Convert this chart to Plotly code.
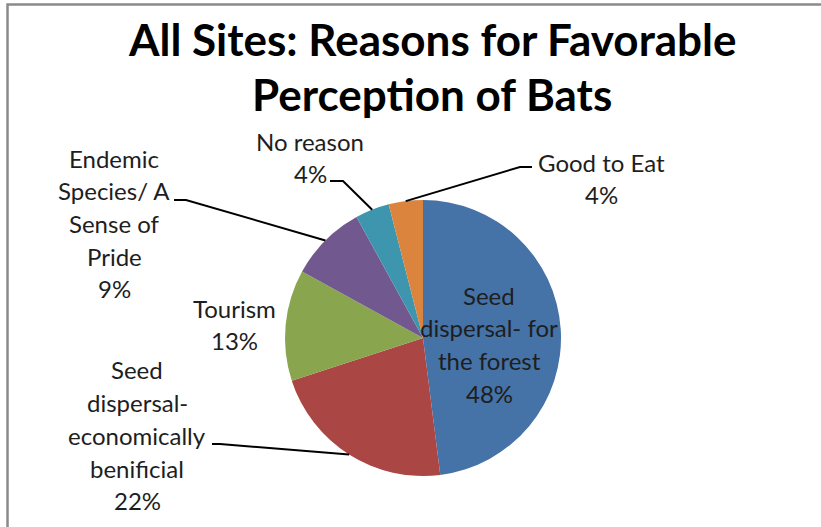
import math
import plotly.graph_objects as go

# Survey answers: why respondents view bats favourably (all sites)
categories = [
    "Seed dispersal- for the forest",
    "Seed dispersal-economically benificial",
    "Tourism",
    "Endemic Species/ A Sense of Pride",
    "No reason",
    "Good to Eat",
]
shares = [48, 22, 13, 9, 4, 4]
label_lines = [
    ["Seed", "dispersal- for", "the forest"],
    ["Seed", "dispersal-", "economically", "benificial"],
    ["Tourism"],
    ["Endemic", "Species/ A", "Sense of", "Pride"],
    ["No reason"],
    ["Good to Eat"],
]
title_lines = ["All Sites: Reasons for Favorable", "Perception of Bats"]

colors = ["#4572A7", "#AA4643", "#89A54E", "#71588F", "#3D96AE", "#DB843D"]

W, H = 821, 527
CX, CY, R = 423, 338, 138          # pie centre and radius in pixels
FONT = "Lato"
TEXT = "#1e1e1e"
PITCH = 32.7                        # label line spacing in pixels


def px(x, y):
    """pixel (from top-left) -> paper coordinates"""
    return x / W, 1 - y / H


fig = go.Figure()
fig.add_trace(go.Pie(
    labels=categories,
    values=shares,
    sort=False,
    direction="clockwise",
    rotation=0,
    textinfo="none",
    hoverinfo="label+percent",
    marker=dict(colors=colors, line=dict(width=0)),
    domain=dict(x=[(CX - R) / W, (CX + R) / W], y=[1 - (CY + R) / H, 1 - (CY - R) / H]),
    showlegend=False,
))

annotations = []
shapes = []

# title, one annotation per line
for i, line in enumerate(title_lines):
    x, y = px(432, 39 + i * 55)
    annotations.append(dict(text=f"<b>{line}</b>", x=x, y=y, xref="paper", yref="paper",
                            showarrow=False, xanchor="center", yanchor="middle",
                            font=dict(family=FONT, size=44, color="#000")))

# label placement: centre x, first line y, leader start (pixel), leader elbow (pixel)
placement = [
    dict(cx=489, y0=295, start=None, elbow=None),
    dict(cx=137, y0=370, start=(212, 444), elbow=(220, 444)),
    dict(cx=234, y0=308, start=None, elbow=None),
    dict(cx=114, y0=158, start=(174, 200), elbow=(186, 200)),
    dict(cx=310, y0=141, start=(330, 181), elbow=(343, 181)),
    dict(cx=601, y0=162, start=(532, 167), elbow=(520, 167)),
]

total = sum(shares)
cum = 0
for i, (lines, v) in enumerate(zip(label_lines, shares)):
    pct = f"{round(v / total * 100)}%"
    mid = (cum + v / 2) / total * 2 * math.pi
    cum += v
    p = placement[i]
    all_lines = lines + [pct]
    for j, ln in enumerate(all_lines):
        x, y = px(p["cx"], p["y0"] + j * PITCH)
        annotations.append(dict(text=ln, x=x, y=y, xref="paper", yref="paper",
                                showarrow=False, xanchor="center", yanchor="middle",
                                font=dict(family=FONT, size=24, color=TEXT)))
    if p["start"] is not None:
        ex = CX + R * math.sin(mid)
        ey = CY - R * math.cos(mid)
        pts = [px(*p["start"]), px(*p["elbow"]), px(ex, ey)]
        path = "M {} {} L {} {} L {} {}".format(*[c for pt in pts for c in pt])
        shapes.append(dict(type="path", path=path, xref="paper", yref="paper",
                           line=dict(color="#000", width=2)))

# chart frame (extends past the right and bottom edges)
fx0, fy1 = px(7.5, 4.5)
shapes.append(dict(type="rect", xref="paper", yref="paper", x0=fx0, y0=-0.2, x1=1.2, y1=fy1,
                   line=dict(color="#8a8a8a", width=2.5), fillcolor="rgba(0,0,0,0)", layer="below"))

fig.update_layout(
    width=W, height=H,
    margin=dict(l=0, r=0, t=0, b=0),
    paper_bgcolor="white",
    plot_bgcolor="white",
    annotations=annotations,
    shapes=shapes,
)

fig.write_html("out.html")
